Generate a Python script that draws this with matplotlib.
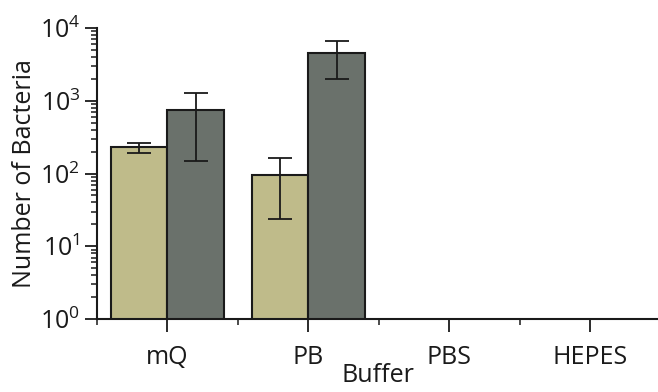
import numpy as np
import matplotlib
matplotlib.use("Agg")
import matplotlib.pyplot as plt
from matplotlib.ticker import LogLocator, NullFormatter, FixedLocator

plt.rcParams['font.family'] = ['Open Sans', 'DejaVu Sans']
plt.rcParams['mathtext.fontset'] = 'custom'
plt.rcParams['mathtext.rm'] = 'Open Sans'
plt.rcParams['mathtext.it'] = 'Open Sans:italic'

# data
buffers = ['mQ', 'PB', 'PBS', 'HEPES']
light_vals = [231, 95]
light_low = [192, 24]
light_high = [263, 163]
dark_vals = [745, 4530]
dark_low = [148, 1990]
dark_high = [1290, 6680]

light_color = '#bfbb8a'
dark_color = '#6a716b'
ink = '#1a1a1a'

fig = plt.figure(figsize=(6.58, 3.92), dpi=100)
ax = fig.add_axes([97 / 658, 73 / 392, 561 / 658, 291 / 392])

x = np.arange(len(light_vals))
w = 0.4

# asymmetric error bars
light_err = [np.array(light_vals) - np.array(light_low), np.array(light_high) - np.array(light_vals)]
dark_err = [np.array(dark_vals) - np.array(dark_low), np.array(dark_high) - np.array(dark_vals)]

ax.bar(x - w / 2, light_vals, w, color=light_color, edgecolor=ink, linewidth=1.5, zorder=2)
ax.bar(x + w / 2, dark_vals, w, color=dark_color, edgecolor=ink, linewidth=1.5, zorder=2)
ax.errorbar(x - w / 2, light_vals, yerr=light_err, fmt='none', ecolor=ink,
            elinewidth=1.3, capsize=8.5, capthick=1.3, zorder=3)
ax.errorbar(x + w / 2, dark_vals, yerr=dark_err, fmt='none', ecolor=ink,
            elinewidth=1.3, capsize=8.5, capthick=1.3, zorder=3)

ax.set_yscale('log')
ax.set_ylim(1, 1e4)
ax.set_xlim(-0.5, 3.48)

ax.yaxis.set_major_locator(LogLocator(base=10, numticks=10))
ax.yaxis.set_minor_locator(LogLocator(base=10, subs=np.arange(2, 10), numticks=10))
ax.yaxis.set_minor_formatter(NullFormatter())

ax.set_xticks(range(len(buffers)))
ax.set_xticklabels(buffers)
ax.xaxis.set_minor_locator(FixedLocator([-0.5, 0.5, 1.5, 2.5]))

for s in ['top', 'right']:
    ax.spines[s].set_visible(False)
for s in ['left', 'bottom']:
    ax.spines[s].set_linewidth(1.5)
    ax.spines[s].set_color(ink)

ax.tick_params(axis='both', which='major', length=9, width=1.3, labelsize=18,
               colors=ink, labelcolor=ink, pad=3)
ax.tick_params(axis='both', which='minor', length=4.5, width=1.1, colors=ink)
ax.tick_params(axis='x', which='major', pad=10)

ax.set_xlabel('Buffer', fontsize=18, color=ink, labelpad=-5)
ax.set_ylabel('Number of Bacteria', fontsize=18, color=ink, labelpad=2)

fig.savefig('out.png', dpi=100)
